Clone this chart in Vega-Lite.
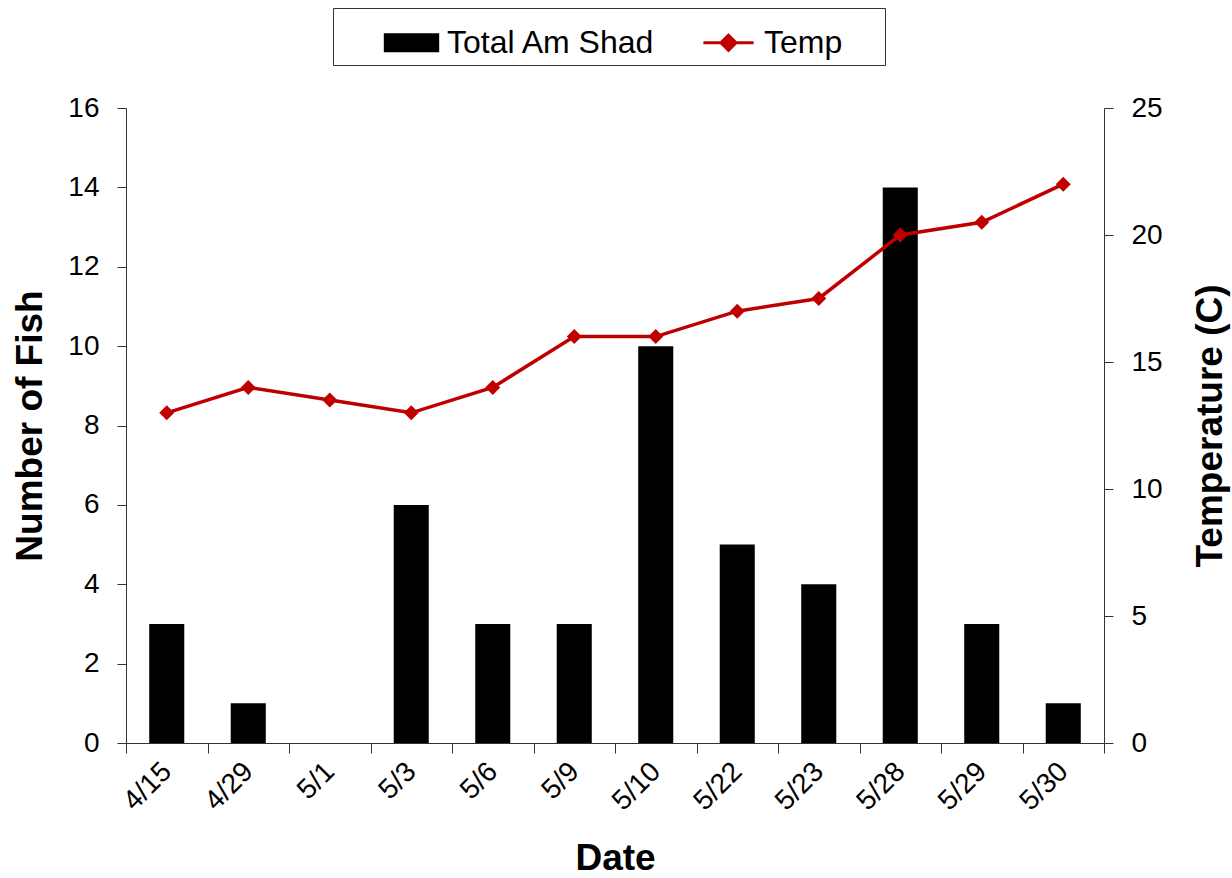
{
  "$schema": "https://vega.github.io/schema/vega-lite/v6.json",
  "autosize": "none",
  "width": 978,
  "height": 635,
  "padding": {"left": 126, "top": 108, "right": 128, "bottom": 135},
  "background": "white",
  "config": {
    "font": "Liberation Sans",
    "view": {"stroke": null},
    "axis": {"grid": false, "domainColor": "#333", "tickColor": "#333", "labelColor": "black", "titleColor": "black", "labelFontSize": 28, "titleFontSize": 37, "titleFontWeight": "bold", "labelFont": "Liberation Sans", "titleFont": "Liberation Sans"}
  },
  "data": {
    "values": [
      {"date": "4/15", "fish": 3, "temp": 13},
      {"date": "4/29", "fish": 1, "temp": 14},
      {"date": "5/1", "fish": 0, "temp": 13.5},
      {"date": "5/3", "fish": 6, "temp": 13},
      {"date": "5/6", "fish": 3, "temp": 14},
      {"date": "5/9", "fish": 3, "temp": 16},
      {"date": "5/10", "fish": 10, "temp": 16},
      {"date": "5/22", "fish": 5, "temp": 17},
      {"date": "5/23", "fish": 4, "temp": 17.5},
      {"date": "5/28", "fish": 14, "temp": 20},
      {"date": "5/29", "fish": 3, "temp": 20.5},
      {"date": "5/30", "fish": 1, "temp": 22}
    ]
  },
  "encoding": {
    "x": {
      "field": "date", "type": "nominal", "sort": null,
      "scale": {"paddingInner": 0, "paddingOuter": 0},
      "axis": {"title": "Date", "labelAngle": -45, "labelAlign": "right", "labelBaseline": "middle", "tickBand": "extent", "tickSize": 10, "labelPadding": 14, "titlePadding": 25}
    }
  },
  "layer": [
    {
      "mark": {"type": "bar", "width": {"band": 0.43}, "color": "black"},
      "encoding": {
        "y": {"field": "fish", "type": "quantitative", "scale": {"domain": [0, 16]}, "axis": {"title": "Number of Fish", "values": [0, 2, 4, 6, 8, 10, 12, 14, 16], "tickSize": 9, "labelPadding": 18, "titlePadding": 18}},
        "color": {"datum": "Total Am Shad", "type": "nominal", "scale": {"domain": ["Total Am Shad", "Temp"], "range": ["black", "#c00000"]},
          "legend": {
            "title": "\u00a0", "titleOrient": "right", "titleFontSize": 1, "titlePadding": 37,
            "orient": "none", "legendX": 207, "legendY": -100, "direction": "horizontal",
            "strokeColor": "#333", "padding": 6, "fillColor": "white",
            "symbolOffset": 44,
            "labelFontSize": 32, "labelFont": "Liberation Sans", "labelColor": "black", "labelOffset": 7, "labelLimit": 0, "columnPadding": 0, "symbolSize": 2916, "symbolStrokeWidth": 3,
            "encoding": {"symbols": {
              "shape": {"value": {"expr": "datum.value === 'Temp' ? 'M-0.93,0L0.93,0M0,-0.28L0.28,0L0,0.28L-0.28,0Z' : 'M-0.97,-0.3L0.97,-0.3L0.97,0.3L-0.97,0.3Z'"}},
              "fill": {"value": {"expr": "datum.value === 'Temp' ? '#c00000' : 'black'"}},
              "stroke": {"value": {"expr": "datum.value === 'Temp' ? '#c00000' : 'black'"}}
            }}
          }
        }
      }
    },
    {
      "mark": {"type": "line", "strokeWidth": 3.5, "point": {"shape": "diamond", "size": 225, "filled": true, "color": "#c00000"}},
      "encoding": {
        "y": {"field": "temp", "type": "quantitative", "scale": {"domain": [0, 25]}, "axis": {"orient": "right", "title": "Temperature (C)", "titleAngle": 270, "values": [0, 5, 10, 15, 20, 25], "tickSize": 9, "labelPadding": 18, "titlePadding": 67}},
        "color": {"datum": "Temp", "type": "nominal"}
      }
    }
  ],
  "resolve": {"scale": {"y": "independent"}}
}
